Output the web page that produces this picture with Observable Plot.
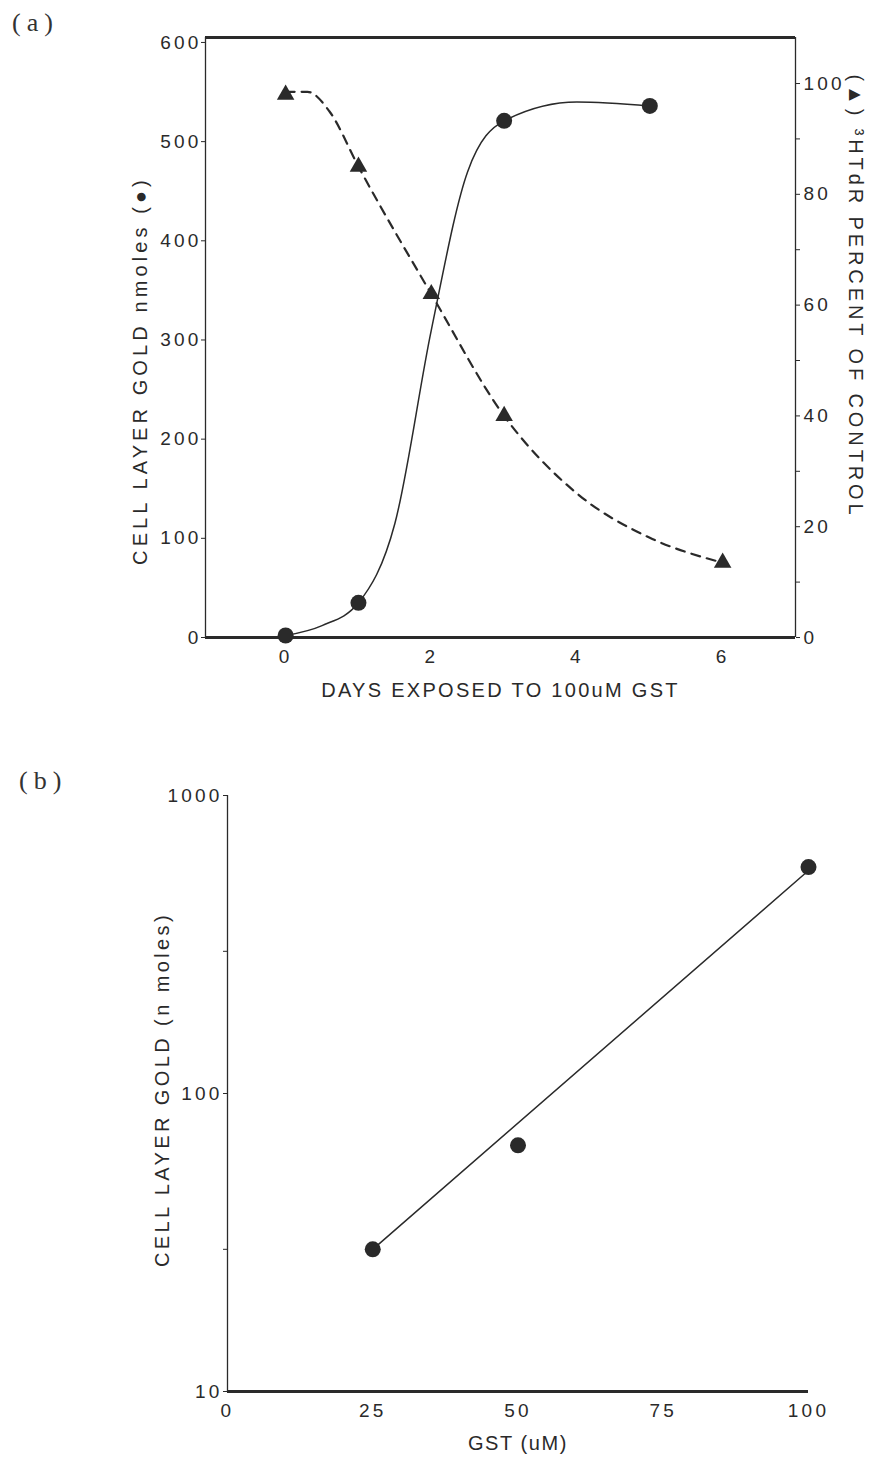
<!DOCTYPE html>
<html>
<head>
<meta charset="utf-8">
<script src="https://cdn.jsdelivr.net/npm/d3@7"></script>
<script src="https://cdn.jsdelivr.net/npm/@observablehq/plot@0.6"></script>
<style>
  body { margin: 0; background: #fff; }
  #wrap { position: relative; width: 869px; height: 1457px; overflow: hidden; background: #fff; }
  .plot { position: absolute; left: 0; }
  .tag { position: absolute; z-index: 2; font-family: "Liberation Serif", serif; font-size: 26px; letter-spacing: 6px; color: #333; }
</style>
</head>
<body>
<div id="wrap"></div>
<script>
// ---- Panel (a): time course of gold uptake and 3HTdR incorporation ----
const goldDays = [0, 1, 3, 5];
const goldNmol = [2, 35, 521, 536];
const tdrDays = [0, 1, 2, 3, 6];
const tdrPct = [98, 85, 62, 40, 13.5];

// hand-drawn trend curves traced through the points
const goldCurveDays = [0, 0.5, 1, 1.5, 2, 2.5, 3, 4, 5];
const goldCurveNmol = [2, 12, 35, 115, 310, 470, 521, 540, 536];
const tdrCurveDays = [0, 0.3, 0.6, 1, 2, 3, 4, 5, 6];
const tdrCurvePct = [98.5, 98.5, 95, 85, 62, 40, 26, 18, 13.5];

const leftTicksA = [0, 100, 200, 300, 400, 500, 600];
const rightTicksA = [0, 10, 20, 30, 40, 50, 60, 70, 80, 90, 100];
const dayTicks = [0, 2, 4, 6];

// ---- Panel (b): uptake vs GST concentration ----
const gstUM = [25, 50, 100];
const goldVsGst = [30, 67, 575];
const fitGst = [25, 100];
const fitGold = [30, 560];
const logTicks = [10, 30, 100, 300, 1000];
const logLabels = [10, 100, 1000];
const gstTicks = [0, 25, 50, 75, 100];

// axis titles
const titleGoldA = "CELL LAYER GOLD nmoles (●)";
const titleTdr = "(▲) ³HTdR PERCENT OF CONTROL";
const titleDays = "DAYS EXPOSED TO 100uM GST";
const titleGoldB = "CELL LAYER GOLD (n moles)";
const titleGst = "GST (uM)";

const ink = "#2a2a2a";
const font = {fontFamily: "'Liberation Sans', 'DejaVu Sans', sans-serif", fontSize: "19px", letterSpacing: "3.2px", color: ink, background: "white", overflow: "visible"};

// right-hand percent scale expressed in left-axis units
const pctK = 5.586;
const toY = p => p * pctK;

const gold = goldDays.map((d, i) => ({d, v: goldNmol[i]}));
const tdr = tdrDays.map((d, i) => ({d, v: toY(tdrPct[i])}));
const goldCurve = goldCurveDays.map((d, i) => ({d, v: goldCurveNmol[i]}));
const tdrCurve = tdrCurveDays.map((d, i) => ({d, v: toY(tdrCurvePct[i])}));

const xMinA = -1.1, xMaxA = 7.0, yMaxA = 605;
const title = {fontSize: 20, fill: ink, textAnchor: "middle", lineAnchor: "middle"};

const plotA = Plot.plot({
  width: 869,
  height: 720,
  marginLeft: 205,
  marginRight: 74,
  marginTop: 37,
  marginBottom: 83,
  style: font,
  x: {domain: [xMinA, xMaxA]},
  y: {domain: [0, yMaxA]},
  marks: [
    // frame
    Plot.ruleY([yMaxA], {stroke: ink, strokeWidth: 3}),
    Plot.ruleY([0], {stroke: ink, strokeWidth: 3}),
    Plot.ruleX([xMinA], {stroke: ink, strokeWidth: 1.3}),
    Plot.ruleX([xMaxA], {stroke: ink, strokeWidth: 1.3}),
    Plot.axisY(leftTicksA, {anchor: "left", tickSize: 4, tickPadding: 0, label: null}),
    Plot.axisY(rightTicksA.map(toY), {anchor: "right", tickSize: 4, tickPadding: 4, label: null,
      tickFormat: d => { const p = Math.round(d / pctK); return p % 20 === 0 ? String(p) : ""; }}),
    Plot.axisX(dayTicks, {anchor: "bottom", tickSize: 0, tickPadding: 12, label: null}),
    // curves
    Plot.line(goldCurve, {x: "d", y: "v", curve: "monotone-x", stroke: ink, strokeWidth: 1.5}),
    Plot.line(tdrCurve, {x: "d", y: "v", curve: "monotone-x", stroke: ink, strokeWidth: 2.2, strokeDasharray: "9,7"}),
    // points
    Plot.dot(gold, {x: "d", y: "v", r: 8, fill: ink, stroke: "none"}),
    Plot.dot(tdr, {x: "d", y: "v", symbol: "triangle", r: 6.5, fill: ink, stroke: "none"}),
    // axis titles
    Plot.text([titleGoldA], {...title, frameAnchor: "left", dx: -65, dy: 33, rotate: -90}),
    Plot.text([titleTdr], {...title, frameAnchor: "right", dx: 60, dy: -41, rotate: 90}),
    Plot.text([titleDays], {...title, frameAnchor: "bottom", dy: 53})
  ]
});
plotA.classList.add("plot");
plotA.style.top = "0px";

const pts = gstUM.map((g, i) => ({g, v: goldVsGst[i]}));
const fit = fitGst.map((g, i) => ({g, v: fitGold[i]}));

const plotB = Plot.plot({
  width: 869,
  height: 737,
  marginLeft: 227,
  marginRight: 61,
  marginTop: 75,
  marginBottom: 66,
  style: font,
  x: {domain: [0, 100]},
  y: {type: "log", domain: [10, 1000]},
  marks: [
    Plot.ruleY([10], {stroke: ink, strokeWidth: 3}),
    Plot.ruleX([0], {stroke: ink, strokeWidth: 1.3}),
    Plot.axisY(logTicks, {anchor: "left", tickSize: 4, tickPadding: 1, label: null,
      tickFormat: d => logLabels.includes(d) ? String(d) : ""}),
    Plot.axisX(gstTicks, {anchor: "bottom", tickSize: 0, tickPadding: 12, label: null}),
    Plot.line(fit, {x: "g", y: "v", stroke: ink, strokeWidth: 1.5}),
    Plot.dot(pts, {x: "g", y: "v", r: 8, fill: ink, stroke: "none"}),
    Plot.text([titleGoldB], {...title, frameAnchor: "left", dx: -65, dy: -4, rotate: -90}),
    Plot.text([titleGst], {...title, frameAnchor: "bottom", dy: 52})
  ]
});
plotB.classList.add("plot");
plotB.style.top = "720px";

// letter spacing for each axis title
const spacing = new Map([[titleGoldA, "4.1px"], [titleTdr, "3.9px"], [titleDays, "2.3px"], [titleGoldB, "3.4px"], [titleGst, "1.6px"]]);
for (const svg of [plotA, plotB]) {
  d3.select(svg).selectAll("text")
    .filter(function () { return spacing.has(this.textContent); })
    .style("letter-spacing", function () { return spacing.get(this.textContent); });
}

const wrap = document.getElementById("wrap");
wrap.append(plotA, plotB);

// panel tags
for (const [txt, left, top] of [["(a)", 12, 8], ["(b)", 19, 766]]) {
  const tag = document.createElement("div");
  tag.className = "tag";
  tag.textContent = txt;
  tag.style.left = left + "px";
  tag.style.top = top + "px";
  wrap.append(tag);
}
</script>
</body>
</html>
